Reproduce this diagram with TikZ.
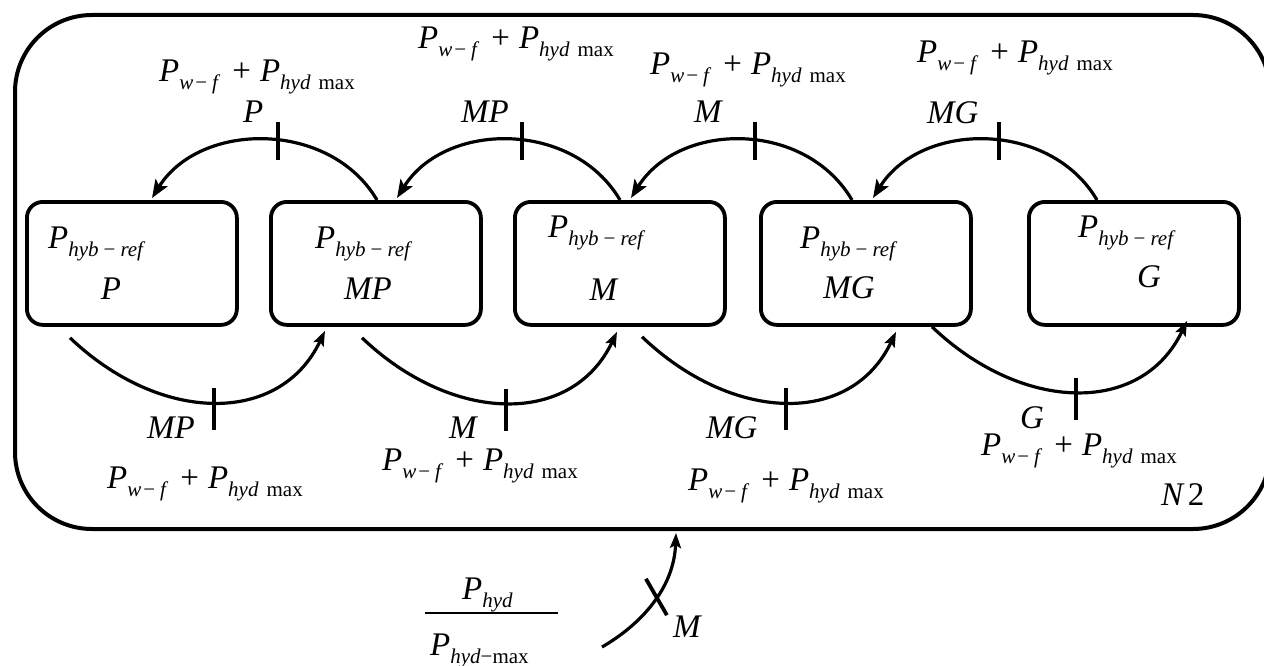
\documentclass[tikz,border=0pt]{standalone}
\usepackage{fontspec}
\setmainfont{Liberation Serif}
\usetikzlibrary{arrows.meta,positioning,calc}
\newcommand{\mainsz}{\fontsize{33}{36}\selectfont}
\newcommand{\subsz}{\fontsize{21}{23}\selectfont}
\newcommand{\sbs}[1]{\raisebox{-8pt}{\subsz #1}}
\newcommand{\Pwf}{\textit{P}\sbs{\textit{w}\hspace{2pt}−\hspace{5pt}\textit{f}}}
\newcommand{\Phm}{\textit{P}\sbs{\textit{hyd}\hspace{8pt}max}}
\newcommand{\pwr}{\Pwf\hspace{12pt}+\hspace{9pt}\Phm}
\newcommand{\Phr}{\textit{P}\sbs{\textit{hyb}\hspace{5pt}−\hspace{5pt}\textit{ref}}}
\tikzset{
  sysbox/.style={draw, line width=4pt, rounded corners=77pt, minimum width=1255pt, minimum height=514pt, inner sep=0pt, anchor=north west},
  stbox/.style={draw, line width=3.8pt, rounded corners=16pt, minimum width=210pt, minimum height=123pt, inner sep=0pt, anchor=north west},
  lbl/.style={inner sep=0pt, anchor=base west, font=\mainsz},
  clbl/.style={inner sep=0pt, anchor=base, font=\mainsz},
  toparc/.style={-{Stealth[length=18pt,width=14pt,inset=4pt]}, line width=3.2pt},
  botarc/.style={-{Stealth[length=15pt,width=11pt,inset=3pt]}, line width=3.2pt},
  tickmk/.style={fill, inner sep=0pt, minimum width=3.8pt, minimum height=#1},
  tickmk/.default=40pt,
}

\begin{document}
\begin{tikzpicture}[x=1pt, y=-1pt]
    \useasboundingbox (0,0) rectangle (1264,666);
    \clip (0,0) rectangle (1264,666);
    % system frame
    \node[sysbox] (sys) at (13,13) {};
    \node[lbl] (n2) at (1161,505) {\textit{N}\hspace{3pt}2};
    % states
    \foreach \i/\x in {1/25, 2/269, 3/513, 4/759, 5/1027}
      \node[stbox] (b\i) at (\x,200) {};
    \foreach \i/\hx/\hy/\st/\sx/\sy in {1/48/248/P/111/299, 2/315/248/MP/368/299, 3/548/237/M/604/300, 4/800/248/MG/849/298, 5/1078/237/G/1149/287} {
      \node[lbl] (h\i) at (\hx,\hy) {\Phr};
      \node[clbl] (s\i) at (\sx,\sy) {\textit{\st}};
    }
    % downward transitions (top)
    \foreach \a/\b/\sx/\ex in {2/1/108/127, 3/2/107/128, 4/3/93/118, 5/4/70/114}
      \draw[toparc] ([xshift=\sx]b\a.north west) .. controls +(-47,-80) and +(48,-77) .. ([xshift=\ex,yshift=2]b\b.north west) node[tickmk=38pt, pos=0.45] (t\b) {};
    \node[lbl] (tl1) at (243,123) {\textit{P}};
    \node[lbl] (tl2) at (461,123) {\textit{MP}};
    \node[lbl] (tl3) at (694,123) {\textit{M}};
    \node[lbl] (tl4) at (927,124) {\textit{MG}};
    \node[lbl] (tp1) at (159,82) {\pwr};
    \node[lbl] (tp2) at (418,49) {\pwr};
    \node[lbl] (tp3) at (650,75) {\pwr};
    \node[lbl] (tp4) at (917,63) {\pwr};
    % upward transitions (bottom)
    \foreach \a/\b/\sx/\sy/\ex/\ey in {1/2/45/-11/56/-4, 2/3/93/-11/104/-5, 3/4/129/-10/137/-5, 4/5/173/0/160/6}
      \draw[botarc] ([xshift=\sx,yshift=\sy]b\a.south west) .. controls +(90,86) and +(-45,95) .. ([xshift=\ex,yshift=\ey]b\b.south west) node[tickmk=42pt, pos=0.5, yshift=-7pt] (u\a) {};
    \node[lbl] (bl1) at (147,438) {\textit{MP}};
    \node[lbl] (bl2) at (449,438) {\textit{M}};
    \node[lbl] (bl3) at (706,438) {\textit{MG}};
    \node[lbl] (bl4) at (1020,428) {\textit{G}};
    \node[lbl] (bp1) at (107,488) {\pwr};
    \node[lbl] (bp2) at (382,470) {\pwr};
    \node[lbl] (bp3) at (688,490) {\pwr};
    \node[lbl] (bp4) at (981,455) {\pwr};
    % input
    \node[lbl] (num) at (462,599) {\textit{P}\sbs{\textit{hyd}}};
    \node[fill, inner sep=0pt, minimum width=133pt, minimum height=1.6pt] (fbar) at (491.5,613) {};
    \node[lbl] (den) at (430,655) {\textit{P}\sbs{\textit{hyd}−max}};
    \coordinate (in0) at (602,647);
    \draw[botarc] (in0) .. controls +(38,-22) and +(-2,56) .. ($(sys.south west)+(663,2)$) node[tickmk=42pt, pos=0.55, rotate=30] (tin) {};
    \node[lbl] (inl) at (673,637) {\textit{M}};
  \end{tikzpicture}
\end{document}
